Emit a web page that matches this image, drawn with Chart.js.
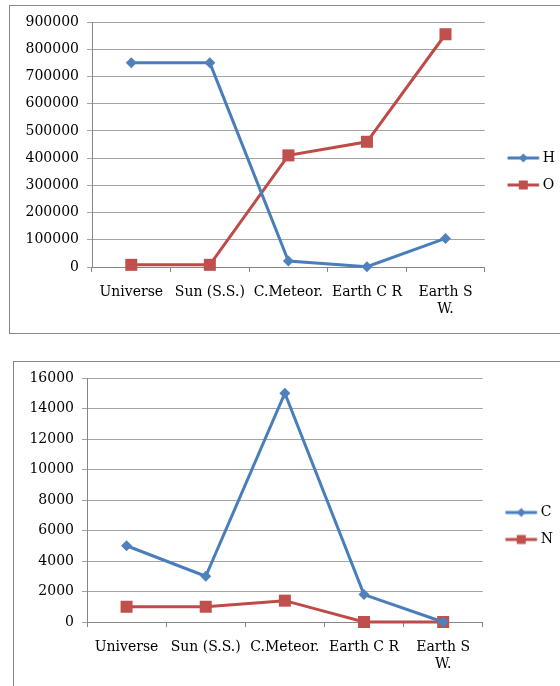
<!DOCTYPE html>
<html>
<head>
<meta charset="utf-8">
<script src="https://cdn.jsdelivr.net/npm/chart.js@4/dist/chart.umd.min.js"></script>
<style>
  html, body { margin: 0; padding: 0; background: #fff; width: 560px; height: 686px; overflow: hidden; position: relative; }
  .frame { position: absolute; border: 1px solid #868686; box-sizing: border-box; }
  #frameTop { left: 9px; top: 5px; width: 620px; height: 329px; }
  #frameBottom { left: 13px; top: 361px; width: 620px; height: 400px; }
  canvas { position: absolute; left: 0; }
  #chartTop { top: 0; }
  #chartBottom { top: 340px; }
</style>
</head>
<body>
<div class="frame" id="frameTop"></div>
<div class="frame" id="frameBottom"></div>
<canvas id="chartTop" width="571" height="340" style="width:571px;height:340px"></canvas>
<canvas id="chartBottom" width="571" height="346" style="width:571px;height:346px"></canvas>
<script>
// Abundance of elements in different bodies
const categories = ['Universe', 'Sun (S.S.)', 'C.Meteor.', 'Earth C R', ['Earth S', 'W.']];

const hydrogen = [750000, 750000, 22000, 1000, 105000];
const oxygen   = [8000, 8000, 410000, 460000, 855000];
const carbon   = [5000, 3000, 15000, 1800, 0];
const nitrogen = [1000, 1000, 1400, 0, 0];

const yTicksTop    = [0, 100000, 200000, 300000, 400000, 500000, 600000, 700000, 800000, 900000];
const yTicksBottom = [0, 2000, 4000, 6000, 8000, 10000, 12000, 14000, 16000];

const BLUE_LINE = '#4a7ebb', BLUE_FILL = '#4f81bd';
const RED_LINE = '#be4b48', RED_FILL = '#c0504d';
const GRID = '#a3a3a3', AXIS = '#868686';
const FONT = { family: '"DejaVu Serif", serif', size: 14 };

// Small line-with-marker swatch used as the legend symbol
function legendSwatch(lineColor, fillColor, shape) {
  const c = document.createElement('canvas');
  c.width = 64; c.height = 14;
  const g = c.getContext('2d');
  const x0 = 22.7, x1 = 54.3, cy = 7, cx = (x0 + x1) / 2;
  g.strokeStyle = lineColor; g.lineWidth = 3;
  g.beginPath(); g.moveTo(x0, cy); g.lineTo(x1, cy); g.stroke();
  g.fillStyle = fillColor;
  g.beginPath();
  if (shape === 'diamond') {
    g.moveTo(cx - 4.5, cy); g.lineTo(cx, cy - 4.5); g.lineTo(cx + 4.5, cy); g.lineTo(cx, cy + 4.5);
  } else {
    g.rect(cx - 4.5, cy - 4.5, 9, 9);
  }
  g.closePath(); g.fill();
  return c;
}

function series(label, values, lineColor, fillColor, shape) {
  return {
    label, data: values,
    borderColor: lineColor, backgroundColor: fillColor,
    borderWidth: 3, tension: 0, clip: false,
    pointStyle: shape === 'diamond' ? 'rectRot' : 'rect',
    pointRadius: shape === 'diamond' ? 5.5 : 8.5,
    pointHoverRadius: shape === 'diamond' ? 5.5 : 8.5,
    pointBorderWidth: 0,
    pointBackgroundColor: fillColor,
    swatch: legendSwatch(lineColor, fillColor, shape)
  };
}

function makeChart(id, datasets, yTicks, geo) {
  return new Chart(document.getElementById(id), {
    type: 'line',
    data: { labels: categories, datasets },
    options: {
      responsive: false, animation: false,
      layout: { padding: geo.padding },
      plugins: {
        tooltip: { enabled: false },
        legend: {
          position: 'right', align: 'center',
          labels: {
            usePointStyle: true, pointStyleWidth: 38, padding: 13,
            color: '#000', font: FONT,
            generateLabels(chart) {
              return chart.data.datasets.map((ds, i) => ({
                text: ds.label, pointStyle: ds.swatch,
                fillStyle: ds.backgroundColor, strokeStyle: ds.borderColor,
                lineWidth: 0, hidden: false, datasetIndex: i, fontColor: '#000'
              }));
            }
          }
        }
      },
      scales: {
        x: {
          offset: true,
          grid: { offset: true, drawOnChartArea: false, drawTicks: true, tickLength: 5, color: AXIS },
          border: { color: AXIS },
          ticks: { color: '#000', font: FONT, padding: 12, maxRotation: 0, autoSkip: false },
          afterFit(s) { s.height = geo.xHeight; }
        },
        y: {
          min: yTicks[0], max: yTicks[yTicks.length - 1],
          afterBuildTicks(s) { s.ticks = yTicks.map(v => ({ value: v })); },
          grid: { color: GRID, tickLength: 5, drawTicks: true },
          border: { color: AXIS },
          ticks: { color: '#000', font: FONT, padding: 8, callback: v => String(v) },
          afterFit(s) { s.width = geo.yWidth; }
        }
      }
    }
  });
}

makeChart('chartTop', [
  series('H', hydrogen, BLUE_LINE, BLUE_FILL, 'diamond'),
  series('O', oxygen, RED_LINE, RED_FILL, 'square')
], yTicksTop, { padding: { top: 22, bottom: 19, left: 0, right: 6 }, xHeight: 54, yWidth: 92 });

makeChart('chartBottom', [
  series('C', carbon, BLUE_LINE, BLUE_FILL, 'diamond'),
  series('N', nitrogen, RED_LINE, RED_FILL, 'square')
], yTicksBottom, { padding: { top: 38, bottom: 12, left: 0, right: 8 }, xHeight: 52, yWidth: 87 });
</script>
</body>
</html>
